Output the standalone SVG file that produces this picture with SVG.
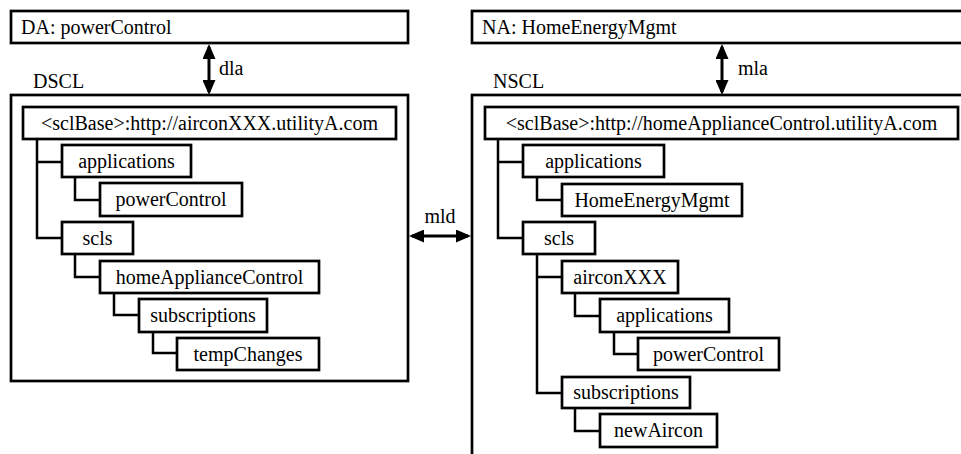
<svg xmlns="http://www.w3.org/2000/svg" width="961" height="454" viewBox="0 0 961 454" font-size="20">
  <defs>
    <style>
      .box { fill: #fff; stroke: #000; stroke-width: 2.7; }
      .frame { fill: none; stroke: #000; stroke-width: 2.7; }
      .link { fill: none; stroke: #000; stroke-width: 2.5; }
      .ifc { fill: none; stroke: #000; stroke-width: 3; }
      .c { text-anchor: middle; }
    </style>
    <marker id="head" viewBox="0 0 15 13" refX="12" refY="6.5" markerWidth="15" markerHeight="13" markerUnits="userSpaceOnUse" orient="auto-start-reverse">
      <path d="M0,0 L15,6.5 L0,13 z" fill="#000"/>
    </marker>
  </defs>
  <rect width="961" height="454" fill="#fff"/>

  <!-- Application boxes and SCL frames -->
  <g id="da">
    <rect class="frame" x="11" y="11" width="397" height="32"/>
    <text x="21" y="34" font-family="Liberation Serif">DA: powerControl</text>
  </g>
  <g id="na">
    <rect class="frame" x="472" y="11" width="500" height="32"/>
    <text x="482" y="34" font-family="Liberation Serif">NA: HomeEnergyMgmt</text>
  </g>
  <g id="dscl">
    <rect class="frame" x="11" y="95" width="397" height="286"/>
    <text x="33" y="88" font-family="Liberation Serif">DSCL</text>
  </g>
  <g id="nscl">
    <rect class="frame" x="472" y="95" width="500" height="380"/>
    <text x="493" y="88" font-family="Liberation Serif">NSCL</text>
  </g>

  <!-- Connectors: interface arrows and tree links -->
  <g id="connectors">
    <line class="ifc" x1="209" y1="47" x2="209" y2="92" marker-start="url(#head)" marker-end="url(#head)"/>
    <line class="ifc" x1="722" y1="47" x2="722" y2="92" marker-start="url(#head)" marker-end="url(#head)"/>
    <line class="ifc" x1="412" y1="236" x2="468" y2="236" marker-start="url(#head)" marker-end="url(#head)"/>

    <!-- DSCL resource tree -->
    <path class="link" d="M37,139 V238 H62 M37,162 H62"/>
    <path class="link" d="M75,177 V200 H100"/>
    <path class="link" d="M75,254 V277 H100"/>
    <path class="link" d="M114,293 V315 H139"/>
    <path class="link" d="M153,332 V353 H177"/>

    <!-- NSCL resource tree -->
    <path class="link" d="M498,139 V238 H523 M498,162 H523"/>
    <path class="link" d="M537,177 V200 H562"/>
    <path class="link" d="M537,254 V393 H562 M537,277 H562"/>
    <path class="link" d="M575,293 V316 H600"/>
    <path class="link" d="M614,332 V354 H638"/>
    <path class="link" d="M575,408 V431 H600"/>
  </g>

  <g id="labels">
    <text x="219" y="75" font-family="Liberation Serif">dla</text>
    <text x="738" y="75" font-family="Liberation Serif">mla</text>
    <text class="c" x="440" y="223" font-family="Liberation Serif">mld</text>
  </g>

  <!-- DSCL resources -->
  <g id="d-sclbase">
    <rect class="box" x="23" y="107" width="373" height="32"/>
    <text class="c" x="209.5" y="130" font-family="Liberation Serif">&lt;sclBase&gt;:http://airconXXX.utilityA.com</text>
  </g>
  <g id="d-applications">
    <rect class="box" x="62" y="145" width="129" height="32"/>
    <text class="c" x="126.5" y="168" font-family="Liberation Serif">applications</text>
  </g>
  <g id="d-powercontrol">
    <rect class="box" x="100" y="183" width="142" height="33"/>
    <text class="c" x="171" y="206" font-family="Liberation Serif">powerControl</text>
  </g>
  <g id="d-scls">
    <rect class="box" x="62" y="222" width="71" height="32"/>
    <text class="c" x="97.5" y="245" font-family="Liberation Serif">scls</text>
  </g>
  <g id="d-homeappliancecontrol">
    <rect class="box" x="100" y="261" width="219" height="32"/>
    <text class="c" x="209.5" y="284" font-family="Liberation Serif">homeApplianceControl</text>
  </g>
  <g id="d-subscriptions">
    <rect class="box" x="139" y="299" width="128" height="33"/>
    <text class="c" x="203" y="322" font-family="Liberation Serif">subscriptions</text>
  </g>
  <g id="d-tempchanges">
    <rect class="box" x="177" y="338" width="142" height="32"/>
    <text class="c" x="248" y="361" font-family="Liberation Serif">tempChanges</text>
  </g>

  <!-- NSCL resources -->
  <g id="n-sclbase">
    <rect class="box" x="485" y="107" width="473" height="32"/>
    <text class="c" x="721.5" y="130" font-family="Liberation Serif">&lt;sclBase&gt;:http://homeApplianceControl.utilityA.com</text>
  </g>
  <g id="n-applications">
    <rect class="box" x="523" y="145" width="141" height="32"/>
    <text class="c" x="593.5" y="168" font-family="Liberation Serif">applications</text>
  </g>
  <g id="n-homeenergymgmt">
    <rect class="box" x="562" y="184" width="180" height="32"/>
    <text class="c" x="652" y="207" font-family="Liberation Serif">HomeEnergyMgmt</text>
  </g>
  <g id="n-scls">
    <rect class="box" x="523" y="222" width="72" height="32"/>
    <text class="c" x="559" y="245" font-family="Liberation Serif">scls</text>
  </g>
  <g id="n-airconxxx">
    <rect class="box" x="562" y="261" width="116" height="32"/>
    <text class="c" x="620" y="284" font-family="Liberation Serif">airconXXX</text>
  </g>
  <g id="n-applications2">
    <rect class="box" x="600" y="299" width="129" height="33"/>
    <text class="c" x="664.5" y="322" font-family="Liberation Serif">applications</text>
  </g>
  <g id="n-powercontrol">
    <rect class="box" x="638" y="338" width="141" height="32"/>
    <text class="c" x="708.5" y="361" font-family="Liberation Serif">powerControl</text>
  </g>
  <g id="n-subscriptions">
    <rect class="box" x="562" y="377" width="128" height="31"/>
    <text class="c" x="626" y="399" font-family="Liberation Serif">subscriptions</text>
  </g>
  <g id="n-newaircon">
    <rect class="box" x="600" y="414" width="117" height="33"/>
    <text class="c" x="658.5" y="437" font-family="Liberation Serif">newAircon</text>
  </g>
</svg>
